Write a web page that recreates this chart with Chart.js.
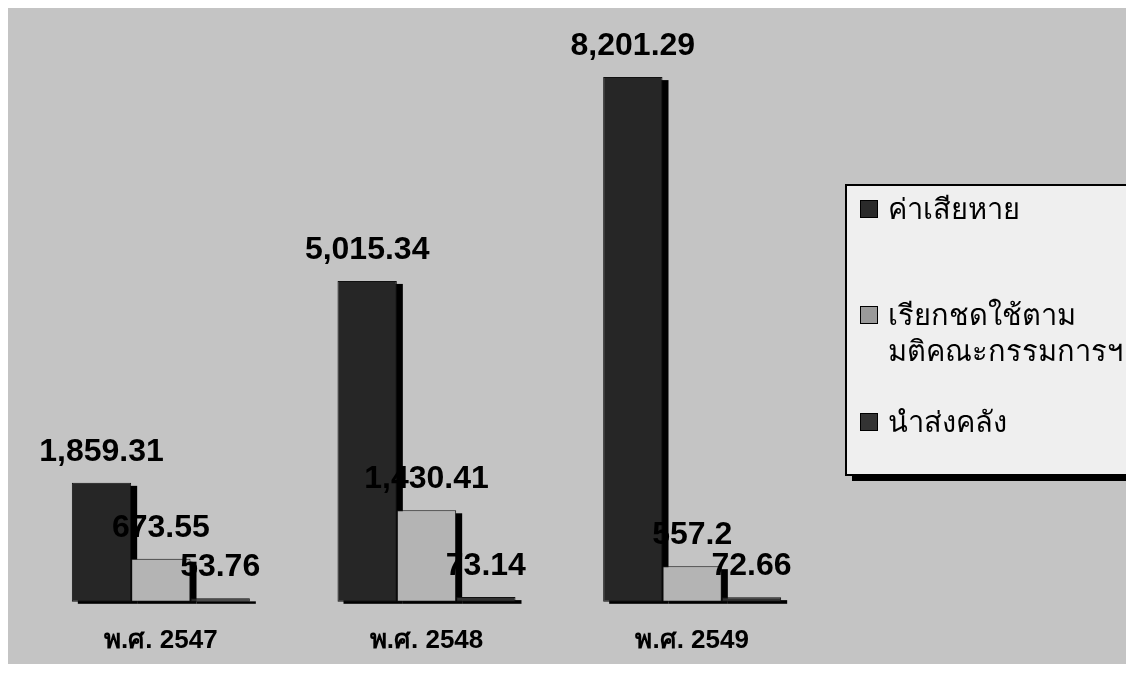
<!DOCTYPE html>
<html>
<head>
<meta charset="utf-8">
<script src="https://cdn.jsdelivr.net/npm/chart.js@4/dist/chart.umd.min.js"></script>
<style>
  body { margin: 0; background: #fff; }
  canvas { display: block; }
</style>
</head>
<body>
<canvas id="chart" width="1126" height="677"></canvas>
<script>
const categories = ['พ.ศ. 2547', 'พ.ศ. 2548', 'พ.ศ. 2549']
const damage = [1859.31, 5015.34, 8201.29]
const claimed = [673.55, 1430.41, 557.2]
const remitted = [53.76, 73.14, 72.66]
const seriesNames = [['ค่าเสียหาย'], ['เรียกชดใช้ตาม', 'มติคณะกรรมการฯ'], ['นำส่งคลัง']]
const seriesColors = ['#262626', '#b4b4b4', '#323232']
const swatchColors = ['#2a2a2a', '#9a9a9a', '#333333']

const FONT = '"Liberation Sans", Arial, sans-serif'
const fmt = v => v.toLocaleString('en-US', { maximumFractionDigits: 2 })

// gray slide background with a thin white frame
const backdrop = {
  id: 'backdrop',
  beforeDraw: chart => {
    const ctx = chart.ctx
    ctx.save()
    ctx.fillStyle = '#fff'
    ctx.fillRect(0, 0, chart.width, chart.height)
    ctx.fillStyle = '#c4c4c4'
    ctx.fillRect(8, 8, chart.width - 8, 656)
    ctx.restore()
  }
}

// hard black drop shadow behind every bar
const barShadow = {
  id: 'barShadow',
  beforeDatasetsDraw: chart => {
    const ctx = chart.ctx
    ctx.save()
    ctx.fillStyle = '#000'
    chart.data.datasets.forEach((ds, i) => {
      chart.getDatasetMeta(i).data.forEach(bar => {
        const p = bar.getProps(['x', 'y', 'base', 'width'], true)
        ctx.fillRect(p.x - p.width / 2 + 6, p.y + 3, p.width, p.base - p.y - 1)
      })
    })
    ctx.restore()
  }
}

const valueLabels = {
  id: 'valueLabels',
  afterDatasetsDraw: chart => {
    const ctx = chart.ctx
    ctx.save()
    ctx.font = 'bold 32px ' + FONT
    ctx.fillStyle = '#000'
    ctx.textAlign = 'center'
    ctx.textBaseline = 'alphabetic'
    chart.data.datasets.forEach((ds, i) => {
      chart.getDatasetMeta(i).data.forEach((bar, j) => {
        ctx.fillText(fmt(ds.data[j]), bar.x, bar.y - 22)
      })
    })
    ctx.restore()
  }
}

const boxLegend = {
  id: 'boxLegend',
  afterDraw: chart => {
    const ctx = chart.ctx
    const x = 846, y = 185, w = 285, h = 290
    ctx.save()
    ctx.fillStyle = '#000'
    ctx.fillRect(x + 6, y + 6, w, h)
    ctx.fillStyle = '#efefef'
    ctx.fillRect(x, y, w, h)
    ctx.lineWidth = 2
    ctx.strokeStyle = '#000'
    ctx.strokeRect(x, y, w, h)
    ctx.font = '29px ' + FONT
    ctx.textBaseline = 'alphabetic'
    const tops = [200, 306, 413]
    chart.data.datasets.forEach((ds, i) => {
      ctx.fillStyle = swatchColors[i]
      ctx.fillRect(860, tops[i], 18, 18)
      ctx.lineWidth = 1
      ctx.strokeStyle = '#000'
      ctx.strokeRect(860.5, tops[i] + 0.5, 17, 17)
      ctx.fillStyle = '#000'
      ds.label.forEach((line, k) => {
        ctx.fillText(line, 888, tops[i] + 19 + k * 36)
      })
    })
    ctx.restore()
  }
}

const makeSet = (label, data, i) => ({
  label: label,
  data: data,
  backgroundColor: seriesColors[i],
  borderColor: '#111',
  borderWidth: 1,
  borderSkipped: false,
  clip: false
})

new Chart(document.getElementById('chart'), {
  type: 'bar',
  data: {
    labels: categories,
    datasets: [
      makeSet(seriesNames[0], damage, 0),
      makeSet(seriesNames[1], claimed, 1),
      makeSet(seriesNames[2], remitted, 2)
    ]
  },
  options: {
    responsive: false,
    animation: false,
    layout: { padding: { top: 26, left: 28, right: 301, bottom: -2 } },
    datasets: { bar: { categoryPercentage: 0.67, barPercentage: 1 } },
    plugins: { legend: { display: false }, tooltip: { enabled: false } },
    scales: {
      x: {
        grid: { display: false, drawTicks: false },
        border: { display: false },
        ticks: { color: '#000', padding: 23, font: { family: FONT, size: 26, weight: 'bold' } }
      },
      y: { display: false, min: 0, max: 9000 }
    }
  },
  plugins: [backdrop, barShadow, valueLabels, boxLegend]
})
</script>
</body>
</html>
